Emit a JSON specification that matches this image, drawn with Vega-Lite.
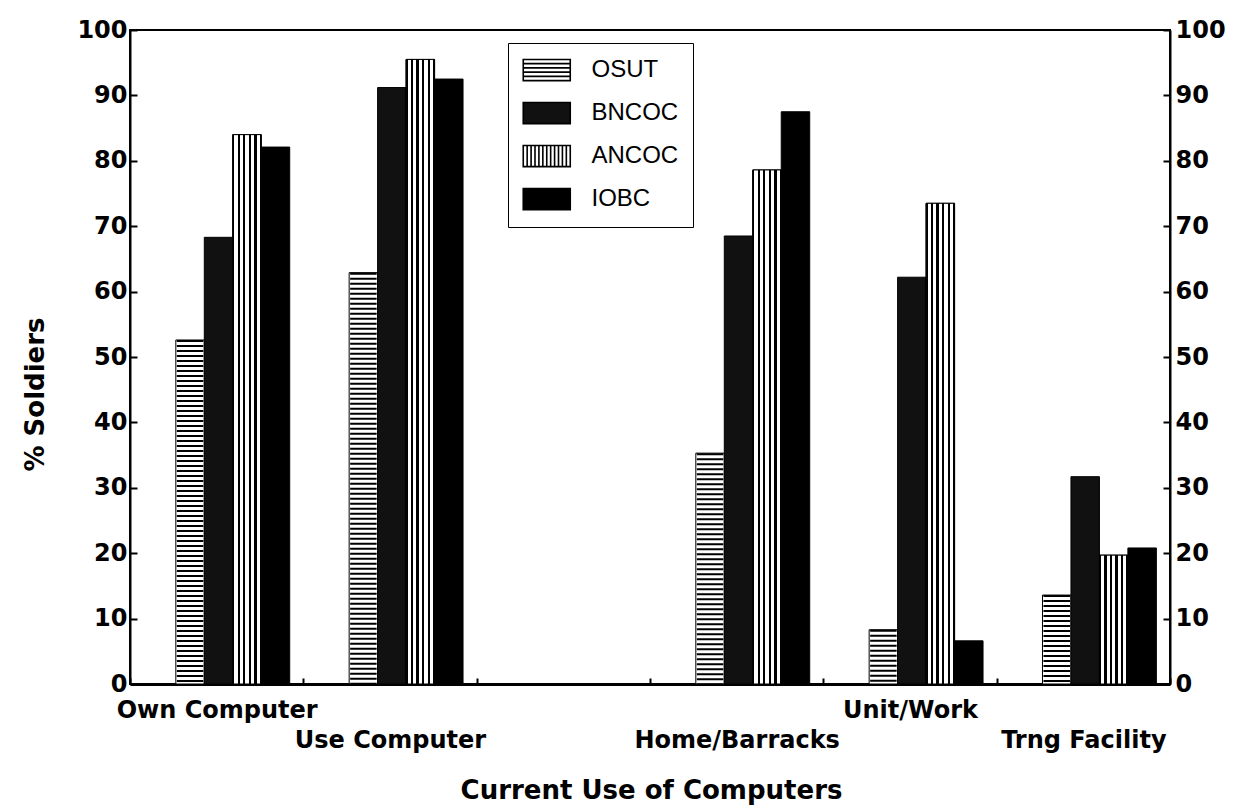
{
  "$schema": "https://vega.github.io/schema/vega-lite/v6.json",
  "width": 1040,
  "height": 654,
  "autosize": {"type": "none"},
  "padding": {"left": 130, "top": 30, "right": 78, "bottom": 122},
  "background": "white",
  "config": {
    "view": {"stroke": "black", "strokeWidth": 2},
    "axis": {
      "labelFont": "DejaVu Sans", "labelFontWeight": "bold", "labelColor": "black",
      "titleFont": "DejaVu Sans", "titleFontWeight": "bold", "titleColor": "black",
      "domainColor": "black", "tickColor": "black", "grid": false
    }
  },
  "data": {
    "values": [
      {"category": "Own Computer", "series": "OSUT", "value": 52.6},
      {"category": "Own Computer", "series": "BNCOC", "value": 68.3},
      {"category": "Own Computer", "series": "ANCOC", "value": 84.0},
      {"category": "Own Computer", "series": "IOBC", "value": 82.1},
      {"category": "Use Computer", "series": "OSUT", "value": 62.9},
      {"category": "Use Computer", "series": "BNCOC", "value": 91.2},
      {"category": "Use Computer", "series": "ANCOC", "value": 95.5},
      {"category": "Use Computer", "series": "IOBC", "value": 92.5},
      {"category": "Home/Barracks", "series": "OSUT", "value": 35.3},
      {"category": "Home/Barracks", "series": "BNCOC", "value": 68.5},
      {"category": "Home/Barracks", "series": "ANCOC", "value": 78.6},
      {"category": "Home/Barracks", "series": "IOBC", "value": 87.5},
      {"category": "Unit/Work", "series": "OSUT", "value": 8.3},
      {"category": "Unit/Work", "series": "BNCOC", "value": 62.2},
      {"category": "Unit/Work", "series": "ANCOC", "value": 73.5},
      {"category": "Unit/Work", "series": "IOBC", "value": 6.6},
      {"category": "Trng Facility", "series": "OSUT", "value": 13.6},
      {"category": "Trng Facility", "series": "BNCOC", "value": 31.7},
      {"category": "Trng Facility", "series": "ANCOC", "value": 19.7},
      {"category": "Trng Facility", "series": "IOBC", "value": 20.8}
    ]
  },
  "layer": [
    {
      "mark": {"type": "bar", "stroke": "black", "strokeWidth": 1},
      "encoding": {
        "x": {
          "field": "category", "type": "nominal", "sort": null,
          "scale": {"domain": ["Own Computer", "Use Computer", " ", "Home/Barracks", "Unit/Work", "Trng Facility"], "paddingInner": 0, "paddingOuter": 0},
          "axis": {
            "title": "Current Use of Computers", "titleFontSize": 26,
            "titleX": 521, "titleY": 106, "titleBaseline": "middle", "titleAlign": "center",
            "labelAngle": 0, "labelFontSize": 24, "labelBaseline": "top", "labelPadding": 20,
            "labelLineHeight": 30, "labelOverlap": false, "labelBound": false, "labelFlush": false, "labelLimit": 400,
            "labelExpr": "datum.value == ' ' ? '' : (indexof(['Use Computer', 'Home/Barracks', 'Trng Facility'], datum.value) >= 0 ? ['', datum.value] : datum.value)",
            "tickBand": "extent", "tickSize": -6, "tickWidth": 2, "domainWidth": 3
          }
        },
        "xOffset": {
          "field": "series",
          "scale": {"domain": ["_", "OSUT", "BNCOC", "ANCOC", "IOBC"], "paddingInner": 0, "paddingOuter": 0.544, "align": 0.56}
        },
        "y": {
          "field": "value", "type": "quantitative",
          "scale": {"domain": [0, 100], "nice": false},
          "axis": {
            "title": "% Soldiers", "titleFontSize": 26, "titleX": -95, "titleY": 364,
            "titleAngle": -90, "titleBaseline": "middle", "titleAlign": "center",
            "values": [0, 10, 20, 30, 40, 50, 60, 70, 80, 90, 100],
            "labelFontSize": 24, "labelPadding": 10, "tickSize": -7, "tickWidth": 2, "domainWidth": 2
          }
        },
        "color": {
          "field": "series", "type": "nominal",
          "scale": {
            "domain": ["OSUT", "BNCOC", "ANCOC", "IOBC"],
            "range": ["white", "#111111", "white", "#000000"]
          },
          "legend": {
            "orient": "none", "legendX": 378, "legendY": 13, "title": null,
            "symbolType": "M-1,-0.9H3V0.9H-1Z", "symbolSize": 552.25,
            "symbolStrokeColor": "black", "symbolStrokeWidth": 1,
            "labelFont": "Liberation Sans", "labelFontSize": 24, "labelColor": "black",
            "labelOffset": 43.5, "rowPadding": 15, "padding": 14,
            "strokeColor": "black", "fillColor": "white",
            "encoding": {
              "symbols": {
                "stroke": {"value": "black"},
                "strokeWidth": {"value": 1.6},
                "shape": {
                  "condition": [
                    {"test": "datum.value === 'OSUT'", "value": "M-1,-0.9H3V0.9H-1Z M-1,-0.54H3 M-1,-0.18H3 M-1,0.18H3 M-1,0.54H3"},
                    {"test": "datum.value === 'ANCOC'", "value": "M-1,-0.9H3V0.9H-1Z M-0.667,-0.9V0.9 M-0.333,-0.9V0.9 M0,-0.9V0.9 M0.333,-0.9V0.9 M0.667,-0.9V0.9 M1,-0.9V0.9 M1.333,-0.9V0.9 M1.667,-0.9V0.9 M2,-0.9V0.9 M2.333,-0.9V0.9 M2.667,-0.9V0.9"}
                  ],
                  "value": "M-1,-0.9H3V0.9H-1Z"
                }
              }
            }
          }
        }
      }
    },
    {
      "transform": [{"filter": "datum.series === 'ANCOC'"}],
      "mark": {"type": "bar", "stroke": "black", "strokeWidth": 1, "fill": {"gradient": "linear", "x1": 0, "y1": 0, "x2": 1, "y2": 0, "stops": [
        {"offset": 0, "color": "black"}, {"offset": 0.055, "color": "black"}, {"offset": 0.055, "color": "white"}, {"offset": 0.17, "color": "white"},
        {"offset": 0.17, "color": "black"}, {"offset": 0.25, "color": "black"}, {"offset": 0.25, "color": "white"}, {"offset": 0.365, "color": "white"},
        {"offset": 0.365, "color": "black"}, {"offset": 0.445, "color": "black"}, {"offset": 0.445, "color": "white"}, {"offset": 0.56, "color": "white"},
        {"offset": 0.56, "color": "black"}, {"offset": 0.64, "color": "black"}, {"offset": 0.64, "color": "white"}, {"offset": 0.755, "color": "white"},
        {"offset": 0.755, "color": "black"}, {"offset": 0.835, "color": "black"}, {"offset": 0.835, "color": "white"}, {"offset": 0.95, "color": "white"},
        {"offset": 0.95, "color": "black"}, {"offset": 1, "color": "black"}
      ]}},
      "encoding": {
        "x": {"field": "category", "type": "nominal", "sort": null},
        "xOffset": {"field": "series"},
        "y": {"field": "value", "type": "quantitative", "axis": null}
      }
    },
    {
      "transform": [{"filter": "datum.series === 'OSUT'"}],
      "mark": {"type": "rule", "color": "black", "strokeWidth": 26.5, "strokeDash": [2, 3], "strokeCap": "butt"},
      "encoding": {
        "x": {"field": "category", "type": "nominal", "sort": null},
        "xOffset": {"field": "series"},
        "y": {"field": "value", "type": "quantitative", "axis": null},
        "y2": {"datum": 0}
      }
    },
    {
      "mark": {"type": "rule", "opacity": 0},
      "encoding": {
        "y": {
          "field": "value", "type": "quantitative",
          "scale": {"domain": [0, 100], "nice": false},
          "axis": {
            "orient": "right", "title": null,
            "values": [0, 10, 20, 30, 40, 50, 60, 70, 80, 90, 100],
            "labelFontSize": 24, "labelPadding": 12, "tickSize": -7, "tickWidth": 2, "domainWidth": 2
          }
        }
      }
    }
  ],
  "resolve": {"axis": {"y": "independent"}}
}
